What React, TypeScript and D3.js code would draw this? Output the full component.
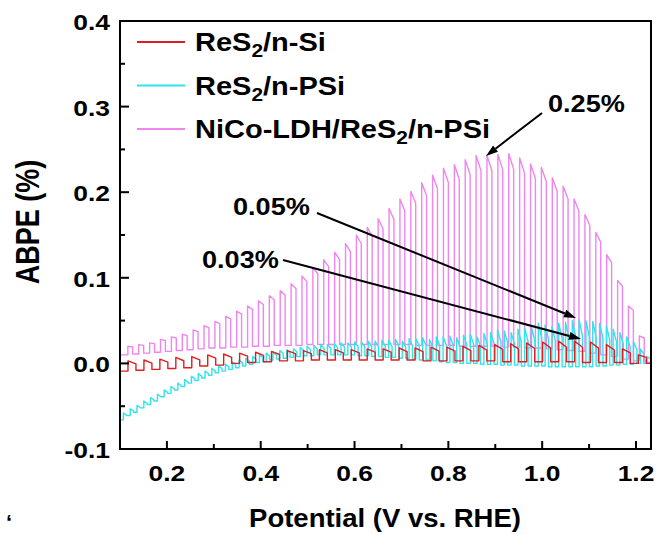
import React from 'react';
import * as d3 from 'd3';

// axis ticks
const xTicks = [0.2, 0.4, 0.6, 0.8, 1.0, 1.2];
const xTickLabels = ['0.2', '0.4', '0.6', '0.8', '1.0', '1.2'];
const xMinorTicks = [0.3, 0.5, 0.7, 0.9, 1.1];
const yTicks = [-0.1, 0.0, 0.1, 0.2, 0.3, 0.4];
const yTickLabels = ['-0.1', '0.0', '0.1', '0.2', '0.3', '0.4'];
const yMinorTicks = [-0.05, 0.05, 0.15, 0.25, 0.35];

// chopped-light scans: potential of first chop cycle and chop period (V)
const pinkStart = 0.104;
const pinkPeriod = 0.0232;
// NiCo-LDH/ReS2/n-PSi, ABPE (%) per chop cycle, light on / dark
const pinkOn = [
  0.020, 0.022, 0.024, 0.028, 0.031, 0.034, 0.039, 0.044, 0.049, 0.055,
  0.061, 0.067, 0.073, 0.079, 0.085, 0.093, 0.102, 0.112, 0.121, 0.130,
  0.140, 0.150, 0.159, 0.169, 0.181, 0.192, 0.201, 0.211, 0.220, 0.228,
  0.232, 0.238, 0.243, 0.243, 0.244, 0.245, 0.240, 0.233, 0.229, 0.217,
  0.207, 0.192, 0.174, 0.153, 0.127, 0.097, 0.067, 0.032,
];
const pinkOff = [
  0.010, 0.011, 0.012, 0.013, 0.014, 0.015, 0.016, 0.017, 0.018, 0.018,
  0.019, 0.019, 0.020, 0.020, 0.021, 0.021, 0.021, 0.022, 0.022, 0.022,
  0.022, 0.022, 0.022, 0.022, 0.022, 0.022, 0.022, 0.021, 0.021, 0.021,
  0.021, 0.020, 0.020, 0.020, 0.020, 0.019, 0.019, 0.018, 0.018, 0.017,
  0.016, 0.015, 0.014, 0.012, 0.010, 0.008, 0.005, 0.003,
];

const cyanStart = 0.1;
const cyanPeriod = 0.0145;
// ReS2/n-PSi
const cyanOn = [
  -0.058, -0.053, -0.049, -0.044, -0.040, -0.036, -0.031, -0.027, -0.023, -0.019,
  -0.015, -0.012, -0.009, -0.006, -0.003, -0.001, 0.002, 0.004, 0.006, 0.008,
  0.010, 0.012, 0.013, 0.015, 0.016, 0.017, 0.019, 0.020, 0.021, 0.022,
  0.022, 0.023, 0.024, 0.024, 0.025, 0.025, 0.026, 0.026, 0.027, 0.027,
  0.028, 0.026, 0.029, 0.029, 0.030, 0.028, 0.031, 0.031, 0.032, 0.030,
  0.033, 0.034, 0.031, 0.035, 0.036, 0.039, 0.038, 0.036, 0.040, 0.041,
  0.042, 0.047, 0.045, 0.043, 0.047, 0.048, 0.050, 0.051, 0.050, 0.049,
  0.047, 0.044, 0.040, 0.036, 0.031, 0.025, 0.017, 0.008,
];
const cyanOff = [
  -0.066, -0.061, -0.057, -0.052, -0.048, -0.044, -0.039, -0.035, -0.031, -0.027,
  -0.023, -0.020, -0.017, -0.014, -0.011, -0.009, -0.007, -0.005, -0.003, -0.001,
  0.001, 0.002, 0.004, 0.005, 0.006, 0.007, 0.008, 0.009, 0.009, 0.010,
  0.010, 0.010, 0.010, 0.010, 0.010, 0.009, 0.009, 0.008, 0.008, 0.007,
  0.007, 0.006, 0.006, 0.005, 0.004, 0.004, 0.003, 0.002, 0.001, 0.001,
  0.000, 0.000, 0.000, -0.001, -0.001, -0.001, -0.002, -0.002, -0.002, -0.003,
  -0.003, -0.003, -0.003, -0.004, -0.004, -0.004, -0.004, -0.004, -0.004, -0.004,
  -0.003, -0.003, -0.002, -0.002, -0.001, -0.001, 0.000, 0.000,
];

const redStart = 0.1;
const redPeriod = 0.034;
// ReS2/n-Si
const redOn = [
  0.003, 0.004, 0.005, 0.007, 0.008, 0.010, 0.011, 0.012, 0.013, 0.014,
  0.015, 0.015, 0.016, 0.016, 0.016, 0.017, 0.017, 0.018, 0.018, 0.019,
  0.019, 0.020, 0.021, 0.022, 0.023, 0.024, 0.025, 0.026, 0.026, 0.025,
  0.022, 0.017, 0.010,
];
const redOff = [
  -0.009, -0.008, -0.007, -0.006, -0.005, -0.003, -0.002, 0.000, 0.001, 0.002,
  0.003, 0.003, 0.004, 0.004, 0.004, 0.004, 0.004, 0.004, 0.004, 0.003,
  0.003, 0.003, 0.003, 0.003, 0.002, 0.002, 0.002, 0.002, 0.002, 0.001,
  0.001, 0.001, 0.000,
];

const endPotential = 1.232;

const width = 659;
const height = 535;
const plot = { left: 120, top: 21, right: 651, bottom: 449 };

const x = d3.scaleLinear().domain([0.1, endPotential]).range([plot.left, plot.right]);
const y = d3.scaleLinear().domain([-0.1, 0.4]).range([plot.bottom, plot.top]);

function chopped(start: number, period: number, onFrac: number, decay: number,
  on: number[], off: number[]): [number, number][] {
  const pts: [number, number][] = [[0.1, off[0]]];
  on.forEach((v, i) => {
    const s = start + i * period;
    const l = s + period * (1 - onFrac);
    pts.push([s, off[i]], [l, off[i]], [l, v], [s + period, v - decay * (v - off[i])]);
  });
  pts.push([start + on.length * period, off[off.length - 1]], [endPotential, 0]);
  return pts;
}

const line = d3.line<[number, number]>().x(d => x(d[0])).y(d => y(d[1]));

const font = '"Liberation Sans", Arial, sans-serif';

function T(props: { x: number; y: number; size: number; sx?: number; anchor?: string; children: React.ReactNode }) {
  const { sx = 1.2, anchor = 'start' } = props;
  return (
    <text transform={`translate(${props.x},${props.y}) scale(${sx},1)`} fontSize={props.size}
      fontWeight="bold" fontFamily={font} textAnchor={anchor}>{props.children}</text>
  );
}

function Arrow(props: { x1: number; y1: number; x2: number; y2: number }) {
  const { x1, y1, x2, y2 } = props;
  const a = Math.atan2(y2 - y1, x2 - x1);
  const len = 12, hw = 4;
  const bx = x2 - len * Math.cos(a), by = y2 - len * Math.sin(a);
  const p = [
    [x2, y2],
    [bx + hw * Math.sin(a), by - hw * Math.cos(a)],
    [bx - hw * Math.sin(a), by + hw * Math.cos(a)],
  ].map(d => d.join(',')).join(' ');
  return (
    <g>
      <line x1={x1} y1={y1} x2={bx} y2={by} stroke="#000" strokeWidth={2} />
      <polygon points={p} fill="#000" />
    </g>
  );
}

const colors = { red: '#dd1f1f', cyan: '#33e3ea', pink: '#ef85ef' };

export default function App() {
  const pink = chopped(pinkStart, pinkPeriod, 0.45, 0.08, pinkOn, pinkOff);
  const cyan = chopped(cyanStart, cyanPeriod, 0.5, 0.35, cyanOn, cyanOff);
  const red = chopped(redStart, redPeriod, 0.5, 0.3, redOn, redOff);

  const legend = [
    { color: colors.red, pre: 'ReS', post: '/n-Si' },
    { color: colors.cyan, pre: 'ReS', post: '/n-PSi' },
    { color: colors.pink, pre: 'NiCo-LDH/ReS', post: '/n-PSi' },
  ];

  return (
    <div style={{ position: 'absolute', left: 0, top: 0 }}>
      <svg width={width} height={height} style={{ display: 'block', background: '#fff' }}>
        <defs>
          <clipPath id="plot-clip">
            <rect x={plot.left} y={plot.top} width={plot.right - plot.left} height={plot.bottom - plot.top} />
          </clipPath>
        </defs>

        <g clipPath="url(#plot-clip)" fill="none" strokeWidth={1.4} strokeLinejoin="round">
          <path d={line(pink) ?? ''} stroke={colors.pink} />
          <path d={line(cyan) ?? ''} stroke={colors.cyan} />
          <path d={line(red) ?? ''} stroke={colors.red} />
        </g>

        {/* frame */}
        <rect x={plot.left} y={plot.top} width={plot.right - plot.left} height={plot.bottom - plot.top}
          fill="none" stroke="#000" strokeWidth={2} />

        {/* x ticks */}
        {xTicks.map((t, i) => (
          <g key={'x' + t}>
            <line x1={x(t)} x2={x(t)} y1={plot.bottom} y2={plot.bottom - 8} stroke="#000" strokeWidth={2} />
            <T x={x(t)} y={481} size={22} anchor="middle">{xTickLabels[i]}</T>
          </g>
        ))}
        {xMinorTicks.map(t => (
          <line key={'xm' + t} x1={x(t)} x2={x(t)} y1={plot.bottom} y2={plot.bottom - 5} stroke="#000" strokeWidth={2} />
        ))}

        {/* y ticks */}
        {yTicks.map((t, i) => (
          <g key={'y' + t}>
            <line x1={plot.left} x2={plot.left + 9} y1={y(t)} y2={y(t)} stroke="#000" strokeWidth={2} />
            <T x={110} y={y(t) + 9} size={22} anchor="end">{yTickLabels[i]}</T>
          </g>
        ))}
        {yMinorTicks.map(t => (
          <line key={'ym' + t} x1={plot.left} x2={plot.left + 5} y1={y(t)} y2={y(t)} stroke="#000" strokeWidth={2} />
        ))}

        {/* axis titles */}
        <T x={385} y={527} size={25} sx={1.1} anchor="middle">Potential (V vs. RHE)</T>
        <text transform="translate(39,222) rotate(-90) scale(1,1.2)" fontSize={27} fontWeight="bold"
          fontFamily={font} textAnchor="middle">ABPE (%)</text>

        {/* legend */}
        {legend.map((l, i) => {
          const ly = 42 + i * 43.5;
          return (
            <g key={'lg' + i}>
              <line x1={137} x2={185} y1={ly} y2={ly} stroke={l.color} strokeWidth={2} />
              <text transform={`translate(195,${ly + 9}) scale(1.16,1)`} fontSize={25} fontWeight="bold" fontFamily={font}>
                {l.pre}
                <tspan fontSize={18} dy={6}>2</tspan>
                <tspan dy={-6}>{l.post}</tspan>
              </text>
            </g>
          );
        })}

        {/* annotations */}
        <T x={548} y={112} size={24} sx={1.13}>0.25%</T>
        <Arrow x1={542} y1={113} x2={486} y2={156} />
        <T x={233} y={215} size={24} sx={1.13}>0.05%</T>
        <Arrow x1={317} y1={213} x2={576} y2={318} />
        <T x={202} y={268} size={24} sx={1.13}>0.03%</T>
        <Arrow x1={283} y1={260} x2={581} y2={339} />

        <text x={6} y={530} fontSize={22} fontWeight="bold" fontFamily={font}>‘</text>
      </svg>
    </div>
  );
}
